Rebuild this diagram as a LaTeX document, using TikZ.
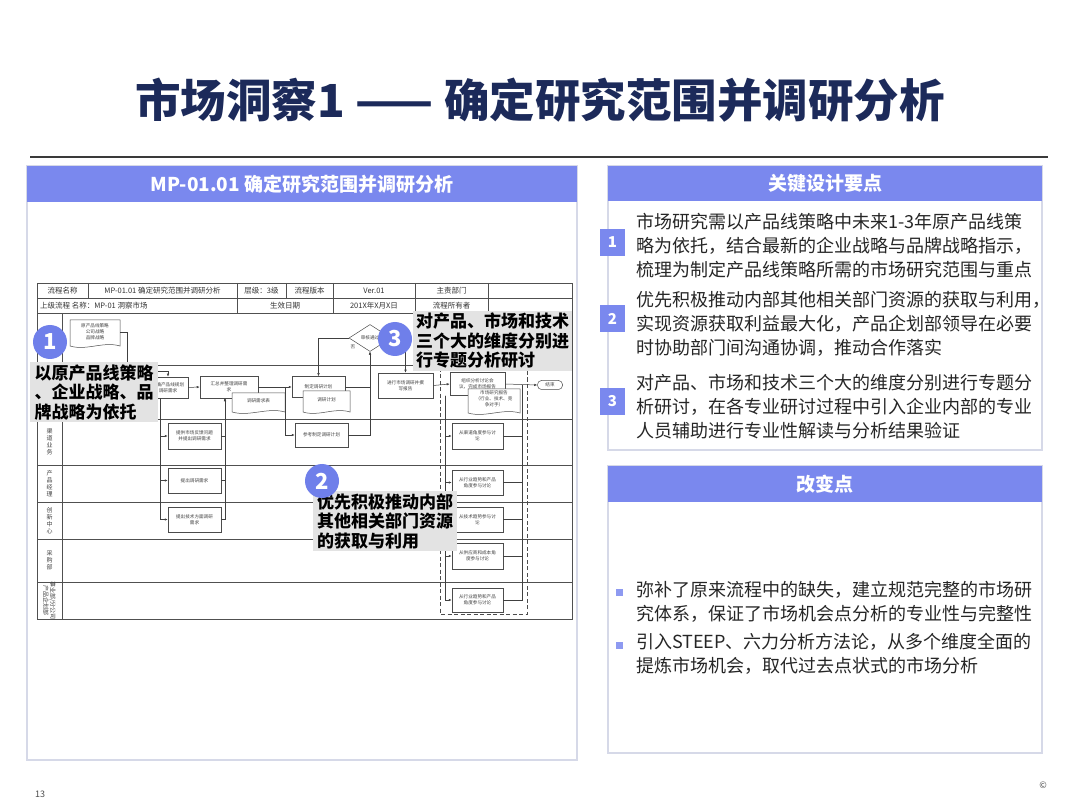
\documentclass[tikz,border=0pt]{standalone}
\usepackage{fontspec}
\setmainfont{Noto Sans CJK SC}
\usepackage{xcolor}
\definecolor{vizHead}{HTML}{7A88EE}
\definecolor{vizBadge}{HTML}{6F7FEA}
\definecolor{vizTitle}{HTML}{1C2A5A}
\definecolor{vizFrame}{HTML}{D6D9E8}
\definecolor{vizRule}{HTML}{3A3A3A}
\definecolor{vizLine}{HTML}{505050}
\definecolor{vizNote}{HTML}{E3E3E3}
\definecolor{vizText}{HTML}{262626}
\usetikzlibrary{arrows.meta,shapes.geometric}

\tikzset{
  titletext/.style={font=\fontsize{45.5}{50}\selectfont\bfseries, text=vizTitle, inner sep=0pt},
  titlerule/.style={draw=vizRule, line width=1.4pt},
  panelframe/.style={draw=vizFrame, line width=1.2pt, fill=white},
  panelhead/.style={fill=vizHead, text=white, font=\fontsize{19}{22}\selectfont\bfseries, inner sep=0pt},
  numsq/.style={fill=vizHead, text=white, font=\fontsize{15}{15}\selectfont\bfseries, minimum width=25, minimum height=27, inner sep=0pt},
  keytext/.style={font=\fontsize{18}{24}\selectfont, text=vizText, align=left, inner sep=0pt, anchor=west},
  bulletsq/.style={fill=vizHead!85, minimum size=7, inner sep=0pt},
  tablegrid/.style={draw=vizLine, line width=0.7pt},
  laneline/.style={draw=vizLine, line width=0.9pt},
  celltext/.style={font=\fontsize{7.5}{9}\selectfont, text=black!80, inner sep=0pt},
  lanetext/.style={font=\fontsize{6}{7}\selectfont, text=black!75, align=center, inner sep=0pt},
  flowbox/.style={draw=black!70, line width=0.5pt, fill=white, font=\fontsize{4.6}{5.8}\selectfont, text=black!75, align=center, inner sep=1pt},
  docline/.style={draw=black!70, line width=0.5pt, fill=white},
  doctext/.style={font=\fontsize{4.6}{5.8}\selectfont, text=black!75, align=center, inner sep=0pt},
  flowline/.style={draw=black!75, line width=0.5pt},
  arr/.style={-{Latex[length=3pt,width=2.4pt]}},
  dashbox/.style={draw=black!70, line width=0.6pt, dash pattern=on 4pt off 2.5pt},
  callout/.style={fill=vizNote, font=\fontsize{17}{19.5}\selectfont\bfseries, text=black, align=left, inner sep=2pt, anchor=north west},
  badge/.style={circle, fill=vizBadge, text=white, font=\fontsize{22}{22}\selectfont\bfseries, minimum size=34, inner sep=0pt},
  pagenum/.style={font=\fontsize{9}{10}\selectfont, text=black!70, inner sep=0pt}
}

\newcommand{\docpath}[4]{\filldraw[docline] (#1,#2) -- (#3,#2) -- (#3,#4) .. controls ({#3-(#3-#1)/3},{#4-5}) and ({#1+(#3-#1)/3},{#4+5}) .. (#1,#4) -- cycle;}

\begin{document}
\begin{tikzpicture}[x=1pt,y=-1pt]
  \fill[white] (0,0) rectangle (1080,810);
  \useasboundingbox (0,0) rectangle (1080,810);
  \node[titletext] (title) at (540,100) {市场洞察1 —— 确定研究范围并调研分析};
  \draw[titlerule] (30,157) -- (1048,157);

  \draw[panelframe] (27,166) rectangle (577,760);
  \node[panelhead, minimum width=550, minimum height=36] (lefthead) at (302,184) {MP-01.01 确定研究范围并调研分析};
  \draw[panelframe] (608,166) rectangle (1042,450);
  \node[panelhead, minimum width=434, minimum height=35] (keyhead) at (825,183.5) {关键设计要点};
  \draw[panelframe] (608,466) rectangle (1042,753);
  \node[panelhead, minimum width=434, minimum height=36] (chghead) at (825,484) {改变点};

  \node[numsq] (n1) at (612.5,242.5) {1};
  \node[numsq] (n2) at (612.5,319) {2};
  \node[numsq] (n3) at (612.5,401.5) {3};
  \node[keytext] (key1) at (636,245.5) {市场研究需以产品线策略中未来1-3年原产品线策\\略为依托，结合最新的企业战略与品牌战略指示，\\梳理为制定产品线策略所需的市场研究范围与重点};
  \node[keytext] (key2) at (636,324) {优先积极推动内部其他相关部门资源的获取与利用，\\实现资源获取利益最大化，产品企划部领导在必要\\时协助部门间沟通协调，推动合作落实};
  \node[keytext] (key3) at (636,406.5) {对产品、市场和技术三个大的维度分别进行专题分\\析研讨，在各专业研讨过程中引入企业内部的专业\\人员辅助进行专业性解读与分析结果验证};

  \node[bulletsq] (bul1) at (619.5,592) {};
  \node[bulletsq] (bul2) at (619.5,645.5) {};
  \node[keytext] (chg1) at (636,602) {弥补了原来流程中的缺失，建立规范完整的市场研\\究体系，保证了市场机会点分析的专业性与完整性};
  \node[keytext] (chg2) at (636,654) {引入STEEP、六力分析方法论，从多个维度全面的\\提炼市场机会，取代过去点状式的市场分析};

  \node[pagenum] (pg) at (40,794) {13};
  \node[pagenum] (copy) at (1043,785) {©};

  \draw[tablegrid] (37,283) rectangle (572,619);
  \draw[tablegrid] (37,298.5) -- (572,298.5);
  \draw[tablegrid] (37,313.5) -- (572,313.5);
  \foreach \x in {88,237,286,333,415,488}
    \draw[tablegrid] (\x,283) -- (\x,298.5);
  \foreach \x in {237,333,415,488}
    \draw[tablegrid] (\x,298.5) -- (\x,313.5);
  \draw[tablegrid] (62,313.5) -- (62,619);
  \foreach \y in {365,419,465,502,539,582}
    \draw[laneline] (37,\y) -- (572,\y);

  \node[celltext] (c11) at (62.5,291) {流程名称};
  \node[celltext] (c12) at (162.5,291) {MP-01.01 确定研究范围并调研分析};
  \node[celltext] (c13) at (261.5,291) {层级：3级};
  \node[celltext] (c14) at (309.5,291) {流程版本};
  \node[celltext] (c15) at (374,291) {Ver.01};
  \node[celltext] (c16) at (451.5,291) {主责部门};
  \node[celltext, anchor=west] (c21) at (40,306) {上级流程 名称：MP-01 洞察市场};
  \node[celltext] (c22) at (285,306) {生效日期};
  \node[celltext] (c23) at (374,306) {201X年X月X日};
  \node[celltext] (c24) at (451.5,306) {流程所有者};

  \node[lanetext] (lane3) at (49.5,442) {渠\\道\\业\\务};
  \node[lanetext] (lane4) at (49.5,483.5) {产\\品\\经\\理};
  \node[lanetext] (lane5) at (49.5,520.5) {创\\新\\中\\心};
  \node[lanetext] (lane6) at (49.5,560.5) {采\\购\\部};
  \node[lanetext, rotate=-90] (lane7) at (49.5,600.5) {事业部/分公司\\产品企划部};

  \docpath{70}{320}{120}{346}
  \node[doctext, minimum width=50, minimum height=26] (srcdoc) at (95,332) {原产品线策略\\公司战略\\品牌战略};

  \node[flowbox, minimum width=40, minimum height=21] (reqA) at (168,387.5) {明确产品线规划\\调研需求};
  \node[flowbox, minimum width=58, minimum height=22] (sumB) at (229,387) {汇总并整理调研需\\求};
  \docpath{232}{393}{285}{412}
  \node[doctext, minimum width=53, minimum height=18] (needdoc) at (258.5,401) {调研需求表};
  \node[flowbox, minimum width=53, minimum height=21] (planC) at (318.5,387) {制定调研计划};
  \docpath{303}{391}{350}{412}
  \node[doctext, minimum width=47, minimum height=18] (plandoc) at (326.5,400) {调研计划};
  \node[flowbox, minimum width=53, minimum height=24] (refH) at (321.5,435) {参考制定调研计划};
  \node[flowbox, diamond, minimum width=42, minimum height=27, inner sep=0pt] (audit) at (370,338) {审核通过};
  \node[flowbox, minimum width=55, minimum height=25] (surveyD) at (405.5,385.5) {进行市场调研并撰\\写报告};
  \node[flowbox, minimum width=55, minimum height=23] (discE) at (477.5,384) {组织分析讨论会\\议，完成市场报告};
  \docpath{468}{389}{520}{413}
  \node[doctext, minimum width=52, minimum height=22] (reportdoc) at (494,399) {市场研究报告\\（行业、技术、竞\\争对手）};
  \node[flowbox, rounded corners=4pt, minimum width=25, minimum height=9, inner sep=0pt] (endT) at (550,385) {结束};

  \node[flowbox, minimum width=53, minimum height=26] (g1) at (194.5,436) {提供市场反馈问题\\并提出调研需求};
  \node[flowbox, minimum width=53, minimum height=25] (g2) at (194.5,480.5) {提出调研需求};
  \node[flowbox, minimum width=53, minimum height=25] (g3) at (194.5,519.5) {提出技术方面调研\\需求};

  \draw[dashbox] (440,368) rectangle (527,614);
  \node[flowbox, minimum width=51, minimum height=26] (f1) at (477.5,436) {从渠道角度参与讨\\论};
  \node[flowbox, minimum width=51, minimum height=25] (f2) at (477.5,482.5) {从行业趋势和产品\\角度参与讨论};
  \node[flowbox, minimum width=51, minimum height=25] (f3) at (477.5,519.5) {从技术趋势参与讨\\论};
  \node[flowbox, minimum width=51, minimum height=26] (f4) at (477.5,556) {从供应商和成本角\\度参与讨论};
  \node[flowbox, minimum width=51, minimum height=24] (f5) at (477.5,600) {从行业趋势和产品\\角度参与讨论};

  \coordinate (srcbend) at (127,371);
  \coordinate (joinR) at (522,385);
  \draw[flowline, arr] (srcdoc.east) -| (srcbend) -| (reqA.north);
  \draw[flowline, arr] (reqA.east) -- (sumB.west);
  \foreach \g in {g1,g2,g3}
    \draw[flowline, arr] ([xshift=-8]reqA.south) |- (\g.west);
  \foreach \g in {g1,g2,g3}
    \draw[flowline, arr] (\g.east) -| ([xshift=-4]sumB.south);
  \draw[flowline, arr] (sumB.east) -- (planC.west);
  \draw[flowline, arr] ([xshift=-7]planC.west) |- (refH.west);
  \draw[flowline, arr] (planC.east) -| (audit.south);
  \draw[flowline, arr] (refH.east) -| (audit.south);
  \draw[flowline, arr] (audit.west) -| (planC.north);
  \node[doctext] (nolab) at (353,347) {否};
  \draw[flowline, arr] (audit.east) -| (surveyD.north);
  \draw[flowline, arr] (surveyD.east) -- (discE.west);
  \draw[flowline, arr] (discE.east) -- (endT.west);
  \foreach \f in {f1,f2,f3,f4,f5}
    \draw[flowline, arr] ([xshift=-5]discE.south west) |- (\f.west);
  \foreach \f in {f1,f2,f3,f4,f5}
    \draw[flowline] (\f.east) -| (joinR);

  \node[callout, minimum width=128, minimum height=60] (note1) at (30,362) {以原产品线策略\\、企业战略、品\\牌战略为依托};
  \node[callout, minimum width=159, minimum height=59] (note3) at (413,311) {对产品、市场和技术\\三个大的维度分别进\\行专题分析研讨};
  \node[callout, minimum width=144, minimum height=60] (note2) at (313,491) {优先积极推动内部\\其他相关部门资源\\的获取与利用};
  \node[badge] (b1) at (50,342) {1};
  \node[badge] (b3) at (395,339) {3};
  \node[badge] (b2) at (322,481) {2};
\end{tikzpicture}
\end{document}
